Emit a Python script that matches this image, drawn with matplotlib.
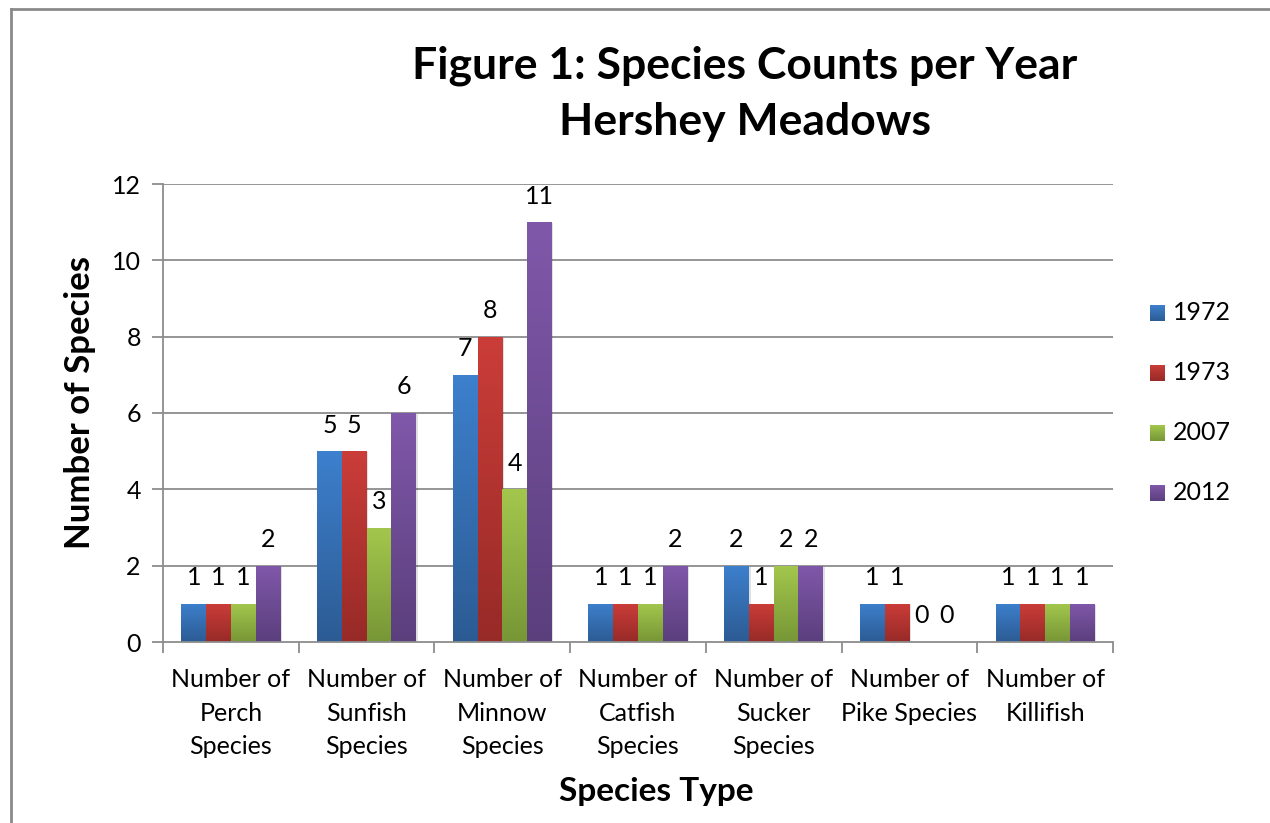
import numpy as np
import matplotlib
matplotlib.use("Agg")
import matplotlib.pyplot as plt
from matplotlib.colors import LinearSegmentedColormap
from matplotlib.patches import Rectangle
from matplotlib.lines import Line2D

plt.rcParams['font.family'] = ['Lato', 'DejaVu Sans']

categories = ["Number of\nPerch\nSpecies", "Number of\nSunfish\nSpecies",
              "Number of\nMinnow\nSpecies", "Number of\nCatfish\nSpecies",
              "Number of\nSucker\nSpecies", "Number of\nPike Species",
              "Number of\nKillifish"]
years = ["1972", "1973", "2007", "2012"]
counts_1972 = [1, 5, 7, 1, 2, 1, 1]
counts_1973 = [1, 5, 8, 1, 1, 1, 1]
counts_2007 = [1, 3, 4, 1, 2, 0, 1]
counts_2012 = [2, 6, 11, 2, 2, 0, 1]
y_ticks = [0, 2, 4, 6, 8, 10, 12]

series = [counts_1972, counts_1973, counts_2007, counts_2012]
# (top colour, bottom colour) for the vertical gradient of each series
shades = [("#3d80cd", "#2c5b93"),
          ("#cb3d39", "#972a27"),
          ("#a3c74d", "#779636"),
          ("#8058aa", "#5b3f7d")]

W, H = 1270, 823
fig = plt.figure(figsize=(W / 100, H / 100), dpi=100)
fig.patch.set_facecolor("white")

# outer chart frame (top and left edges visible)
fig.add_artist(Line2D([11 / W, 11 / W], [0, 1 - 9 / H], transform=fig.transFigure,
                      color="#8a8a8a", lw=2))
fig.add_artist(Line2D([11 / W, 1], [1 - 9 / H, 1 - 9 / H], transform=fig.transFigure,
                      color="#8a8a8a", lw=2))

ax = fig.add_axes([163 / W, 1 - 642 / H, (1113 - 163) / W, (642 - 184) / H])
n_cat = len(categories)
ax.set_xlim(0, n_cat)
ax.set_ylim(0, 12)

grid_c = "#8c8c8c"
for t in y_ticks[1:]:
    ax.axhline(t, color=grid_c, lw=1.3, zorder=0)

for s in ["top", "right"]:
    ax.spines[s].set_visible(False)
for s in ["left", "bottom"]:
    ax.spines[s].set_color(grid_c)
    ax.spines[s].set_linewidth(1.3)

ax.set_yticks(y_ticks)
ax.set_yticklabels([str(t) for t in y_ticks], fontsize=18)
ax.tick_params(axis="y", length=8, width=1.3, color=grid_c, pad=8)
ax.set_xticks(np.arange(0, n_cat + 1))
ax.set_xticklabels([])
ax.set_xticks(np.arange(n_cat) + 0.5, minor=True)
ax.set_xticklabels(categories, minor=True, fontsize=18, linespacing=1.55)
ax.tick_params(axis="x", which="major", length=8, width=1.3, color=grid_c)
ax.tick_params(axis="x", which="minor", length=0, pad=19)

group_w = 0.73
bar_w = group_w / 4
grad = np.linspace(1, 0, 256).reshape(-1, 1)
for si, (vals, (top, bot)) in enumerate(zip(series, shades)):
    cmap = LinearSegmentedColormap.from_list(years[si], [bot, top])
    for ci, v in enumerate(vals):
        x0 = ci + 0.5 - group_w / 2 + si * bar_w
        if v > 0:
            # soft drop shadow
            ax.add_patch(Rectangle((x0 + 0.012, 0), bar_w, v - 0.03, facecolor="#000000",
                                   alpha=0.12, lw=0, zorder=1))
            im = ax.imshow(grad, cmap=cmap, extent=(x0, x0 + bar_w, 0, v), aspect="auto",
                           zorder=2, interpolation="bicubic", vmin=0, vmax=1)
            clip = Rectangle((x0, 0), bar_w, v, transform=ax.transData,
                             facecolor="none", lw=0)
            ax.add_patch(clip)
            im.set_clip_path(clip)
        ax.text(x0 + bar_w / 2, v + 0.38, str(v), ha="center", va="bottom",
                fontsize=18, color="black", zorder=3)

ax.set_xlim(0, n_cat)
ax.set_ylim(0, 12)

ax.set_ylabel("Number of Species", fontsize=25, fontweight="bold",
              va="center", ha="center")
ax.yaxis.set_label_coords(-0.087, 0.522)
fig.text(656 / W, 1 - 792 / H, "Species Type", ha="center", va="center",
         fontsize=24, fontweight="bold")
fig.text(745 / W, 1 - 94 / H, "Figure 1: Species Counts per Year\nHershey Meadows",
         ha="center", va="center", fontsize=32, fontweight="bold", linespacing=1.5)

# legend
for si, (top, bot) in enumerate(shades):
    yc = 313 + si * 60
    cmap = LinearSegmentedColormap.from_list("leg" + years[si], [bot, top])
    lax = fig.add_axes([1150 / W, 1 - (yc + 8) / H, 15 / W, 16 / H])
    lax.imshow(grad, cmap=cmap, aspect="auto", vmin=0, vmax=1)
    lax.axis("off")
    fig.text(1173 / W, 1 - yc / H, years[si], ha="left", va="center", fontsize=18)

fig.savefig("out.png", dpi=100, facecolor="white")
